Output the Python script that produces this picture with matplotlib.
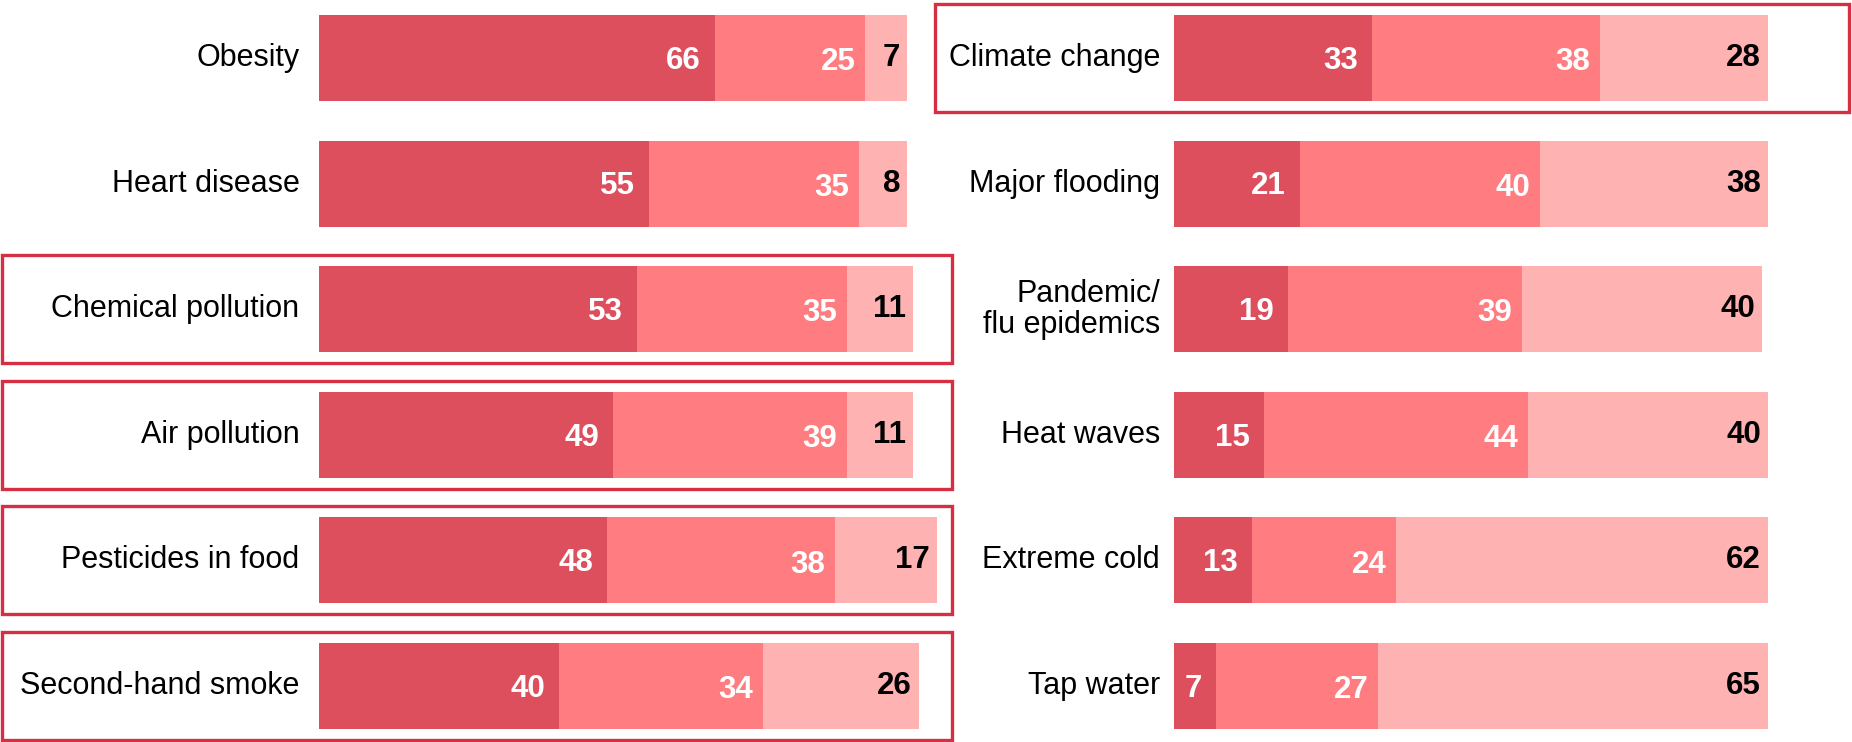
import numpy as np
import matplotlib.pyplot as plt
from matplotlib import font_manager
from matplotlib.patches import Rectangle
import matplotlib.transforms as mtransforms

# ========== 数据 ==========
left_labels = ['Obesity', 'Heart disease', 'Chemical pollution', 'Air pollution',
               'Pesticides in food', 'Second-hand smoke']
left_dark = [66, 55, 53, 49, 48, 40]
left_mid = [25, 35, 35, 39, 38, 34]
left_light = [7, 8, 11, 11, 17, 26]
left_boxed = ['Chemical pollution', 'Air pollution', 'Pesticides in food', 'Second-hand smoke']

right_labels = ['Climate change', 'Major flooding', 'Pandemic/\nflu epidemics', 'Heat waves',
                'Extreme cold', 'Tap water']
right_dark = [33, 21, 19, 15, 13, 7]
right_mid = [38, 40, 39, 44, 24, 27]
right_light = [28, 38, 40, 40, 62, 65]
right_boxed = ['Climate change']

colors = ['#DD4F5D', '#FF7C80', '#FFB2B2']
box_color = '#D62E43'

# 字体
try:
    font_manager.findfont('Liberation Sans', fallback_to_default=False)
    plt.rcParams['font.family'] = ['Liberation Sans', 'DejaVu Sans']
except Exception:
    plt.rcParams['font.family'] = ['DejaVu Sans']


def draw_panel(fig, ax, labels, dark, mid, light, boxed, label_pad, box_x):
    y = np.arange(len(labels))
    h = 0.685
    segs = [dark, mid, light]
    left = np.zeros(len(labels))
    pads = [(-10, -2), (-7, -3), (-5, 0)]
    for i, vals in enumerate(segs):
        vals = np.array(vals, dtype=float)
        bars = ax.barh(y, vals, left=left, height=h, color=colors[i], linewidth=0)
        for b in bars:
            b.set_clip_on(False)
        for yi, (l, v) in enumerate(zip(left, vals)):
            ax.annotate(f'{int(v)}', xy=(l + v, yi), xytext=pads[i],
                        textcoords='offset points', ha='right', va='center',
                        fontsize=22.5, fontweight='bold', annotation_clip=False,
                        color='white' if i < 2 else 'black')
        left = left + vals

    for yi, lab in enumerate(labels):
        ax.annotate(lab, xy=(0, yi), xytext=(-label_pad, 0), textcoords='offset points',
                    ha='right', va='center', fontsize=22, color='black',
                    linespacing=1.05, annotation_clip=False)

    # 高亮框
    trans = mtransforms.blended_transform_factory(fig.transFigure, ax.transData)
    for yi, lab in enumerate(labels):
        if lab in boxed:
            rect = Rectangle((box_x[0], yi - 0.43), box_x[1] - box_x[0], 0.86,
                             transform=trans, fill=False, edgecolor=box_color,
                             linewidth=2.4, clip_on=False)
            fig.add_artist(rect)

    ax.set_xlim(0, 100)
    ax.set_ylim(len(labels) - 1 + h / 2, -h / 2)
    ax.axis('off')


fig = plt.figure(figsize=(18.52, 7.42), dpi=100)
W, H = 1852, 742
ax_l = fig.add_axes([319 / W, 13 / H, 600 / W, 714 / H])
ax_r = fig.add_axes([1174 / W, 13 / H, 600 / W, 714 / H])

draw_panel(fig, ax_l, left_labels, left_dark, left_mid, left_light, left_boxed,
           14, (2 / W, 952 / W))
draw_panel(fig, ax_r, right_labels, right_dark, right_mid, right_light, right_boxed,
           10, (935 / W, 1849 / W))

plt.savefig('out.png', dpi=100, facecolor='white')
